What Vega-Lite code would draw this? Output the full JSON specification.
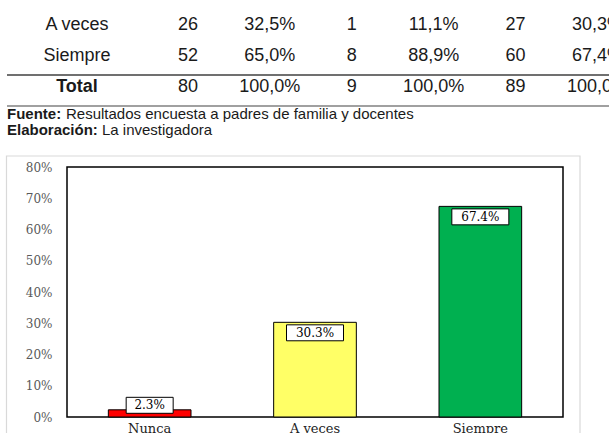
{
  "$schema": "https://vega.github.io/schema/vega-lite/v6.json",
  "autosize": {"type": "none"},
  "padding": {"left": 67, "top": 167, "right": 46, "bottom": 16},
  "width": 496,
  "height": 250,
  "background": "white",
  "config": {"view": {"stroke": "#000000", "strokeWidth": 1.5}},
  "datasets": {
    "grafico": [
      {"Respuesta": "Nunca", "Porcentaje": 0.023},
      {"Respuesta": "A veces", "Porcentaje": 0.303},
      {"Respuesta": "Siempre", "Porcentaje": 0.674}
    ],
    "filas": [
      {"fila": "A veces"},
      {"fila": "Siempre"},
      {"fila": "Total"}
    ],
    "celdas": [
      {"fila": "A veces", "columna": "Padres f", "valor": "26"},
      {"fila": "A veces", "columna": "Padres %", "valor": "32,5%"},
      {"fila": "A veces", "columna": "Docentes f", "valor": "1"},
      {"fila": "A veces", "columna": "Docentes %", "valor": "11,1%"},
      {"fila": "A veces", "columna": "Total f", "valor": "27"},
      {"fila": "A veces", "columna": "Total %", "valor": "30,3%"},
      {"fila": "Siempre", "columna": "Padres f", "valor": "52"},
      {"fila": "Siempre", "columna": "Padres %", "valor": "65,0%"},
      {"fila": "Siempre", "columna": "Docentes f", "valor": "8"},
      {"fila": "Siempre", "columna": "Docentes %", "valor": "88,9%"},
      {"fila": "Siempre", "columna": "Total f", "valor": "60"},
      {"fila": "Siempre", "columna": "Total %", "valor": "67,4%"},
      {"fila": "Total", "columna": "Padres f", "valor": "80"},
      {"fila": "Total", "columna": "Padres %", "valor": "100,0%"},
      {"fila": "Total", "columna": "Docentes f", "valor": "9"},
      {"fila": "Total", "columna": "Docentes %", "valor": "100,0%"},
      {"fila": "Total", "columna": "Total f", "valor": "89"},
      {"fila": "Total", "columna": "Total %", "valor": "100,0%"}
    ],
    "notas": [
      {"linea": "Fuente", "etiqueta": "Fuente:", "texto": "Resultados encuesta a padres de familia y docentes"},
      {"linea": "Elaboración", "etiqueta": "Elaboración:", "texto": "La investigadora"}
    ]
  },
  "layer": [
    {
      "data": {"name": "grafico"},
      "encoding": {
        "x": {
          "field": "Respuesta", "type": "nominal",
          "sort": ["Nunca", "A veces", "Siempre"],
          "scale": {"paddingInner": 0.5, "paddingOuter": 0.25},
          "axis": {"orient": "bottom", "title": null, "labelAngle": 0, "ticks": false, "domain": false,
                   "labelFont": "DejaVu Serif", "labelFontSize": 13, "labelColor": "#222222", "labelPadding": 5}
        },
        "y": {
          "field": "Porcentaje", "type": "quantitative",
          "scale": {"domain": [0, 0.8], "nice": false},
          "axis": {"orient": "left", "title": null, "grid": false, "ticks": false, "domain": false,
                   "values": [0, 0.1, 0.2, 0.3, 0.4, 0.5, 0.6, 0.7, 0.8], "format": ".0%",
                   "labelFont": "DejaVu Serif", "labelFontSize": 12, "labelColor": "#595959", "labelPadding": 15}
        }
      },
      "layer": [
        {
          "mark": {"type": "bar", "stroke": "#000000", "strokeWidth": 1},
          "encoding": {
            "color": {"field": "Respuesta", "type": "nominal",
                      "scale": {"domain": ["Nunca", "A veces", "Siempre"], "range": ["#ff0000", "#ffff66", "#00b050"]},
                      "legend": null}
          }
        },
        {
          "transform": [{"filter": "datum.Respuesta !== 'Nunca'"}],
          "mark": {"type": "point", "shape": "M-1,-0.28H1V0.28H-1Z", "size": 3249, "filled": true,
                   "fill": "#ffffff", "stroke": "#000000", "strokeWidth": 1, "opacity": 1, "yOffset": 10.5}
        },
        {
          "transform": [{"filter": "datum.Respuesta !== 'Nunca'"}],
          "mark": {"type": "text", "font": "DejaVu Serif", "fontSize": 12, "baseline": "middle",
                   "yOffset": 10.5, "color": "#000000"},
          "encoding": {"text": {"field": "Porcentaje", "type": "quantitative", "format": ".1%"}}
        },
        {
          "transform": [{"filter": "datum.Respuesta === 'Nunca'"}],
          "mark": {"type": "point", "shape": "M-1,-0.34H1V0.34H-1Z", "size": 2209, "filled": true,
                   "fill": "#ffffff", "stroke": "#000000", "strokeWidth": 1, "opacity": 1, "yOffset": -4.5}
        },
        {
          "transform": [{"filter": "datum.Respuesta === 'Nunca'"}],
          "mark": {"type": "text", "font": "DejaVu Serif", "fontSize": 12, "baseline": "middle",
                   "yOffset": -4.5, "color": "#000000"},
          "encoding": {"text": {"field": "Porcentaje", "type": "quantitative", "format": ".1%"}}
        }
      ]
    },
    {
      "data": {"name": "filas"},
      "encoding": {
        "x": {"datum": "Respuesta", "type": "nominal",
              "scale": {"type": "band", "domain": ["Respuesta"], "range": [-60, 80], "paddingInner": 0, "paddingOuter": 0},
              "axis": null},
        "y": {"field": "fila", "type": "nominal",
              "scale": {"type": "band", "domain": ["A veces", "Siempre", "Total"], "range": [-154, -61], "paddingInner": 0, "paddingOuter": 0},
              "axis": null},
        "text": {"field": "fila", "type": "nominal"}
      },
      "layer": [
        {
          "transform": [{"filter": "datum.fila !== 'Total'"}],
          "mark": {"type": "text", "font": "Liberation Sans", "fontSize": 18, "baseline": "alphabetic", "dy": 1, "color": "#1a1a1a"}
        },
        {
          "transform": [{"filter": "datum.fila === 'Total'"}],
          "mark": {"type": "text", "font": "Liberation Sans", "fontSize": 18, "fontWeight": "bold", "baseline": "alphabetic", "dy": 1, "color": "#1a1a1a"}
        }
      ]
    },
    {
      "data": {"name": "celdas"},
      "mark": {"type": "text", "font": "Liberation Sans", "fontSize": 18, "baseline": "alphabetic", "dy": 1, "color": "#1a1a1a"},
      "encoding": {
        "x": {"field": "columna", "type": "nominal",
              "scale": {"type": "band", "domain": ["Padres f", "Padres %", "Docentes f", "Docentes %", "Total f", "Total %"],
                        "range": [80, 571.4], "paddingInner": 0, "paddingOuter": 0},
              "axis": null},
        "y": {"field": "fila", "type": "nominal",
              "scale": {"type": "band", "domain": ["A veces", "Siempre", "Total"], "range": [-154, -61], "paddingInner": 0, "paddingOuter": 0},
              "axis": null},
        "text": {"field": "valor", "type": "nominal"}
      }
    },
    {
      "data": {"values": [{"fila": "Total"}]},
      "encoding": {
        "x": {"datum": 0, "type": "quantitative", "scale": {"domain": [0, 1], "range": [-60, 571.4]}, "axis": null},
        "x2": {"datum": 1}
      },
      "layer": [
        {
          "mark": {"type": "rule", "color": "#404040", "strokeWidth": 1.5},
          "encoding": {
            "y": {"field": "fila", "type": "nominal", "bandPosition": 0,
                  "scale": {"type": "band", "domain": ["A veces", "Siempre", "Total"], "range": [-154, -61], "paddingInner": 0, "paddingOuter": 0},
                  "axis": null}
          }
        },
        {
          "mark": {"type": "rule", "color": "#808080", "strokeWidth": 1.5},
          "encoding": {
            "y": {"field": "fila", "type": "nominal", "bandPosition": 1,
                  "scale": {"type": "band", "domain": ["A veces", "Siempre", "Total"], "range": [-154, -61], "paddingInner": 0, "paddingOuter": 0},
                  "axis": null}
          }
        }
      ]
    },
    {
      "data": {"name": "notas"},
      "encoding": {
        "x": {"datum": 0, "type": "quantitative", "scale": {"domain": [0, 1], "range": [-60, 571.4]}, "axis": null},
        "y": {"field": "linea", "type": "nominal",
              "scale": {"type": "point", "domain": ["Fuente", "Elaboración"], "range": [-48, -32.5], "padding": 0},
              "axis": null}
      },
      "layer": [
        {
          "mark": {"type": "text", "align": "left", "baseline": "alphabetic", "font": "Liberation Sans", "fontSize": 15, "fontWeight": "bold", "color": "#1a1a1a"},
          "encoding": {"text": {"field": "etiqueta", "type": "nominal"}}
        },
        {
          "transform": [{"filter": "datum.linea === 'Fuente'"}],
          "mark": {"type": "text", "align": "left", "baseline": "alphabetic", "font": "Liberation Sans", "fontSize": 15, "dx": 59, "color": "#1a1a1a"},
          "encoding": {"text": {"field": "texto", "type": "nominal"}}
        },
        {
          "transform": [{"filter": "datum.linea === 'Elaboración'"}],
          "mark": {"type": "text", "align": "left", "baseline": "alphabetic", "font": "Liberation Sans", "fontSize": 15, "dx": 95, "color": "#1a1a1a"},
          "encoding": {"text": {"field": "texto", "type": "nominal"}}
        }
      ]
    },
    {
      "data": {"values": [{"marco": "Gráfico"}]},
      "mark": {"type": "rect", "fill": null, "fillOpacity": 0, "stroke": "#d9d9d9", "strokeWidth": 1.2},
      "encoding": {
        "x": {"datum": 0, "type": "quantitative", "scale": {"domain": [0, 1], "range": [-60.5, 513]}, "axis": null},
        "x2": {"datum": 1},
        "y": {"datum": 0, "type": "quantitative", "scale": {"domain": [0, 1], "range": [-11, 290]}, "axis": null},
        "y2": {"datum": 1}
      }
    }
  ],
  "resolve": {"scale": {"x": "independent", "y": "independent"}}
}
